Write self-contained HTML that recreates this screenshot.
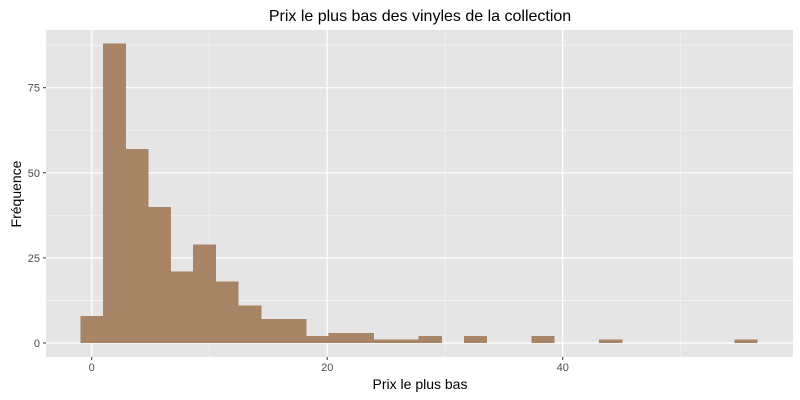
<!DOCTYPE html>
<html><head><meta charset="utf-8"><style>
body{margin:0;background:#fff;}
svg{display:block;font-family:"Liberation Sans",sans-serif;}
</style></head><body>
<svg id="chart" width="800" height="400">
<text x="420" y="21" text-anchor="middle" font-size="16" fill="#000">Prix le plus bas des vinyles de la collection</text>
<rect x="46" y="30" width="747" height="327" fill="#e5e5e5"/>
<g id="grid"></g><g id="bars" shape-rendering="crispEdges"></g><g id="axes"></g>
<text x="420" y="389" text-anchor="middle" font-size="14" fill="#000">Prix le plus bas</text>
<text transform="translate(21,194) rotate(-90)" text-anchor="middle" font-size="14" fill="#000">Fréquence</text>
</svg>
<script>
const counts=[8,88,57,40,21,29,18,11,7,7,2,3,3,1,1,2,0,2,0,0,2,0,0,1,0,0,0,0,0,1];
const binStart=-0.97;
const binWidth=1.916;
const xTicks=[0,20,40];
const xMinor=[10,30,50];
const yTicks=[0,25,50,75];
const yMinor=[12.5,37.5,62.5,87.5];
const NS="http://www.w3.org/2000/svg";
const X=v=>91.7+v*11.776;
const Y=v=>343-v*3.404;
const L=46,R=793,T=30,B=357;
function mk(tag,attrs,parent){const e=document.createElementNS(NS,tag);for(const k in attrs)e.setAttribute(k,attrs[k]);document.getElementById(parent).appendChild(e);return e;}
xMinor.forEach(v=>{const e=mk('line',{x1:X(v),x2:X(v),y1:T,y2:B,stroke:'#f2f2f2','stroke-width':0.8},'grid');

});
yMinor.forEach(v=>{const e=mk('line',{x1:L,x2:R,y1:Y(v),y2:Y(v),stroke:'#f2f2f2','stroke-width':0.8},'grid');

});
xTicks.forEach(v=>{const e=mk('line',{x1:X(v),x2:X(v),y1:T,y2:B,stroke:'#fff','stroke-width':1.2},'grid');


const t=mk('line',{x1:X(v),x2:X(v),y1:B,y2:B+3,stroke:'#333','stroke-width':1},'axes');


const l=mk('text',{x:X(v),y:B+14,'text-anchor':'middle','font-size':11,fill:'#4d4d4d'},'axes');l.textContent=v;

});
yTicks.forEach(v=>{const e=mk('line',{x1:L,x2:R,y1:Y(v),y2:Y(v),stroke:'#fff','stroke-width':1.2},'grid');


const t=mk('line',{x1:L-3,x2:L,y1:Y(v),y2:Y(v),stroke:'#333','stroke-width':1},'axes');


const l=mk('text',{x:L-6,y:Y(v)+4,'text-anchor':'end','font-size':11,fill:'#4d4d4d'},'axes');l.textContent=v;

});
counts.forEach((c,i)=>{if(!c)return;const x0=X(binStart+i*binWidth),x1=X(binStart+(i+1)*binWidth);
const b=mk('rect',{x:x0,y:Y(c),width:x1-x0+0.5,height:Y(0)-Y(c),fill:'#a88566'},'bars');

});
</script>
</body></html>
